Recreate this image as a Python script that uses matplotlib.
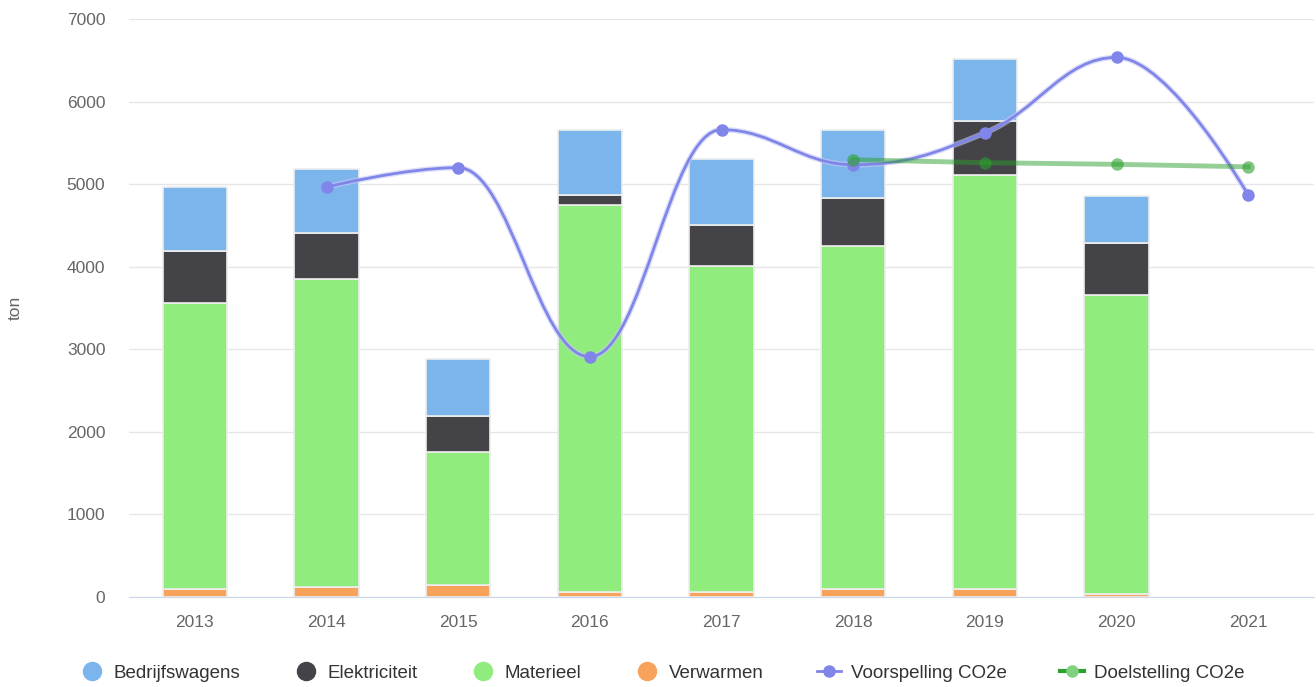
import numpy as np
import matplotlib
matplotlib.use('Agg')
from matplotlib import pyplot as plt
from matplotlib.path import Path
from matplotlib.patches import PathPatch
from matplotlib.lines import Line2D

plt.rcParams['font.family'] = ['Liberation Sans', 'DejaVu Sans']

years = ['2013', '2014', '2015', '2016', '2017', '2018', '2019', '2020', '2021']
verwarmen = [95, 120, 145, 60, 60, 100, 100, 35, 0]
materieel = [3465, 3730, 1610, 4690, 3950, 4150, 5010, 3620, 0]
elektriciteit = [630, 560, 435, 120, 500, 580, 655, 630, 0]
bedrijfswagens = [775, 775, 690, 790, 800, 820, 750, 570, 0]

voorspelling_idx = [1, 2, 3, 4, 5, 6, 7, 8]
voorspelling = [4965, 5200, 2910, 5660, 5235, 5620, 6535, 4870]
doel_idx = [5, 6, 7, 8]
doelstelling = [5295, 5260, 5240, 5210]

c_bw = '#7cb5ec'
c_el = '#434348'
c_ma = '#90ed7d'
c_vw = '#f7a35c'
c_vs = '#8085e9'
c_ds = '#2ca02c'


def spline_path(xs, ys, smoothing=1.5):
    # highcharts-like spline control points
    n = len(xs)
    left = [None] * n
    right = [None] * n
    denom = smoothing + 1
    for i in range(1, n - 1):
        px, py = xs[i], ys[i]
        lx, ly = xs[i - 1], ys[i - 1]
        nx, ny = xs[i + 1], ys[i + 1]
        lcx = (smoothing * px + lx) / denom
        lcy = (smoothing * py + ly) / denom
        rcx = (smoothing * px + nx) / denom
        rcy = (smoothing * py + ny) / denom
        corr = 0
        if rcx != lcx:
            corr = (rcy - lcy) * (rcx - px) / (rcx - lcx) + py - rcy
        lcy += corr
        rcy += corr
        if lcy > ly and lcy > py:
            lcy = max(ly, py)
            rcy = 2 * py - lcy
        elif lcy < ly and lcy < py:
            lcy = min(ly, py)
            rcy = 2 * py - lcy
        if rcy > ny and rcy > py:
            rcy = max(ny, py)
            lcy = 2 * py - rcy
        elif rcy < ny and rcy < py:
            rcy = min(ny, py)
            lcy = 2 * py - rcy
        left[i] = (lcx, lcy)
        right[i] = (rcx, rcy)
    verts = [(xs[0], ys[0])]
    codes = [Path.MOVETO]
    for i in range(1, n):
        c1 = right[i - 1] if right[i - 1] else (xs[i - 1], ys[i - 1])
        c2 = left[i] if left[i] else (xs[i], ys[i])
        verts += [c1, c2, (xs[i], ys[i])]
        codes += [Path.CURVE4] * 3
    return Path(verts, codes)


fig = plt.figure(figsize=(13.16, 6.87), dpi=100)
ax = fig.add_axes([129 / 1316, 1 - 597 / 687, 1185 / 1316, 578 / 687])

x = np.arange(len(years))
w = 0.49
b = np.zeros(len(years))
for vals, col in [(verwarmen, c_vw), (materieel, c_ma), (elektriciteit, c_el), (bedrijfswagens, c_bw)]:
    lws = [1.2 if v > 0 else 0 for v in vals]
    ax.bar(x, vals, w, bottom=b, color=col, edgecolor='#eeeeee', linewidth=lws, zorder=2)
    b = b + np.array(vals)

# forecast spline
p = spline_path(voorspelling_idx, voorspelling)
ax.add_patch(PathPatch(p, facecolor='none', edgecolor='#c8caf5', lw=4, alpha=0.6, zorder=3))
ax.add_patch(PathPatch(p, facecolor='none', edgecolor=c_vs, lw=2, zorder=4))
ax.plot(voorspelling_idx, voorspelling, 'o', color=c_vs, ms=8, zorder=5)

# target line
ax.plot(doel_idx, doelstelling, '-', color=c_ds, lw=3.5, alpha=0.5, zorder=4)
ax.plot(doel_idx, doelstelling, 'o', color=c_ds, ms=9, alpha=0.6, mec='none', zorder=5)

ax.set_xlim(-0.5, len(years) - 0.5)
ax.set_ylim(0, 7000)
ax.set_yticks(np.arange(0, 7001, 1000))
ax.set_xticks(x)
ax.set_xticklabels(years)
ax.grid(axis='y', color='#e6e6e6', lw=1, zorder=0)
ax.set_axisbelow(True)
for s in ['top', 'right', 'left']:
    ax.spines[s].set_visible(False)
ax.spines['bottom'].set_color('#ccd6eb')
ax.tick_params(axis='both', length=0, labelsize=12.5, colors='#666666')
ax.tick_params(axis='x', pad=13)
ax.tick_params(axis='y', pad=17)
fig.text(15 / 1316, 1 - 308 / 687, 'ton', rotation=90, ha='center', va='center',
         fontsize=12.5, color='#666666')

handles = [
    Line2D([], [], marker='o', ls='none', color=c_bw, ms=13),
    Line2D([], [], marker='o', ls='none', color=c_el, ms=13),
    Line2D([], [], marker='o', ls='none', color=c_ma, ms=13),
    Line2D([], [], marker='o', ls='none', color=c_vw, ms=13),
    Line2D([], [], marker='o', ls='-', color=c_vs, lw=2, ms=8),
    Line2D([], [], marker='o', ls='-', color=c_ds, lw=3, ms=8, mfc='#7fd07f', mec='#7fd07f'),
]
labels = ['Bedrijfswagens', 'Elektriciteit', 'Materieel', 'Verwarmen', 'Voorspelling CO2e', 'Doelstelling CO2e']
fig.legend(handles, labels, loc='center', bbox_to_anchor=(662 / 1316, 1 - 673 / 687), ncol=6,
           frameon=False, fontsize=13.5, handlelength=1.3, handletextpad=0.5, columnspacing=2.85,
           labelcolor='#333333')

fig.savefig('out.png', dpi=100)
